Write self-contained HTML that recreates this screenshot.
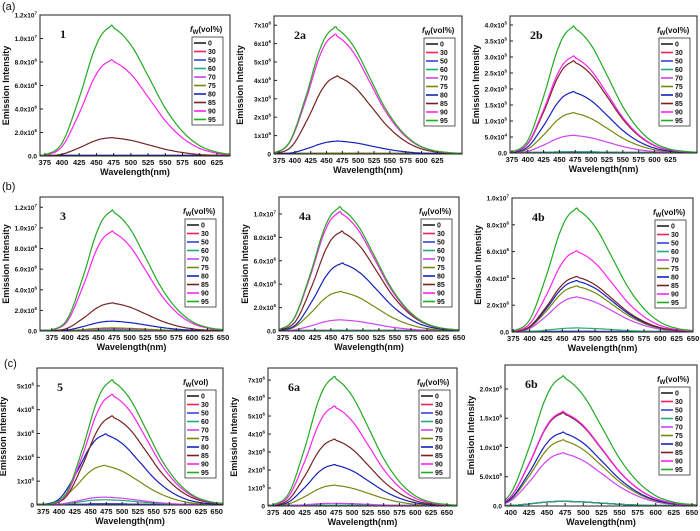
<!DOCTYPE html>
<html><head><meta charset="utf-8">
<style>
body{margin:0;background:#fff;}
svg{display:block;font-family:"Liberation Sans",sans-serif;}
</style></head>
<body>
<svg id="fig" width="700" height="531" viewBox="0 0 700 531" xmlns="http://www.w3.org/2000/svg"></svg>
<script>
// shared data
const seriesNames = ["0","30","50","60","70","75","80","85","90","95"];
const seriesColors = ["#222","#ee2255","#3344dd","#22aa77","#cc44ee","#778811","#1122bb","#772222","#ff22ee","#22aa22"];
// normalized spectral profile (wavelength relative to peak at 470)
const profileWl = [330,350,375,400,425,450,470,475,500,525,550,575,600,625,650,675,700];
const profileVal = [0,0,0.01,0.1,0.45,0.86,1,0.99,0.86,0.62,0.37,0.19,0.08,0.03,0.012,0.004,0];
// per-panel peak intensities for series 0..95
const peaks1 = [0.02,0.02,0.02,0.02,0.02,0.02,0.02,1.55,8.1,11.0].map(v=>v*1e6);
const peaks2a = [0.05,0.05,0.05,0.05,0.05,0.05,0.7,4.2,6.45,6.85].map(v=>v*1e6);
const peaks2b = [0.03,0.03,0.04,0.04,0.55,1.25,1.9,2.85,3.0,3.92].map(v=>v*1e5);
const peaks3 = [0.05,0.05,0.1,0.1,0.2,0.3,0.95,2.7,9.6,11.6].map(v=>v*1e6);
const peaks4a = [0.02,0.02,0.02,0.05,0.95,3.35,5.75,8.45,10.1,10.5].map(v=>v*1e6);
const peaks4b = [0.05,0.05,0.05,0.3,2.6,3.4,3.8,4.1,6.0,9.15].map(v=>v*1e6);
const peaks5 = [0.05,0.05,0.05,0.22,0.33,1.65,2.95,3.7,4.6,5.2].map(v=>v*1e6);
const peaks6a = [0.05,0.05,0.05,0.05,0.15,1.15,2.28,3.68,5.5,7.12].map(v=>v*1e6);
const peaks6b = [0.08,0.08,0.08,0.08,0.9,1.12,1.25,1.58,1.6,2.2].map(v=>v*1e6);
const peakWl5 = [470,470,470,470,470,470,472,482,482,482];
const peakWlStd = [470,470,470,470,470,470,470,470,470,470];
const peakWl2a = [463,463,463,463,463,463,466,465,462,462];
// tick labels
const yTicks1 = ["0.0","2.0x10^6","4.0x10^6","6.0x10^6","8.0x10^6","1.0x10^7","1.2x10^7"];
const yTicks2a = ["0","1x10^6","2x10^6","3x10^6","4x10^6","5x10^6","6x10^6","7x10^6"];
const yTicks2b = ["0.0","5.0x10^4","1.0x10^5","1.5x10^5","2.0x10^5","2.5x10^5","3.0x10^5","3.5x10^5","4.0x10^5"];
const yTicks3 = ["0.0","2.0x10^6","4.0x10^6","6.0x10^6","8.0x10^6","1.0x10^7","1.2x10^7"];
const yTicks4a = ["0.0","2.0x10^6","4.0x10^6","6.0x10^6","8.0x10^6","1.0x10^7"];
const yTicks4b = ["0.0","2.0x10^6","4.0x10^6","6.0x10^6","8.0x10^6","1.0x10^7"];
const yTicks5 = ["0","1x10^6","2x10^6","3x10^6","4x10^6","5x10^6"];
const yTicks6a = ["0","1x10^6","2x10^6","3x10^6","4x10^6","5x10^6","6x10^6","7x10^6"];
const yTicks6b = ["0.0","5.0x10^5","1.0x10^6","1.5x10^6","2.0x10^6"];

const panels = [
 {id:"1",x0:40,x1:230,y0:15,y1:156,xmin:368,xmax:644,ymax:1.2e7,xFirst:375,xLast:625,peaks:peaks1,pw:peakWlStd,yt:yTicks1,title:"(vol%)"},
 {id:"2a",x0:274,x1:462,y0:16,y1:154,xmin:367,xmax:664,ymax:7.5e6,xFirst:375,xLast:625,peaks:peaks2a,pw:peakWl2a,yt:yTicks2a,title:"(vol%)"},
 {id:"2b",x0:510,x1:697,y0:16,y1:153,xmin:372,xmax:667,ymax:4.28e5,xFirst:375,xLast:625,peaks:peaks2b,pw:peakWlStd,yt:yTicks2b,title:"(vol%)"},
 {id:"3",x0:40,x1:223,y0:197,y1:331,xmin:356,xmax:650,ymax:1.3e7,xFirst:375,xLast:650,peaks:peaks3,pw:peakWlStd,yt:yTicks3,title:"(vol%)"},
 {id:"4a",x0:279,x1:459,y0:197,y1:331,xmin:369,xmax:650,ymax:1.145e7,xFirst:375,xLast:650,peaks:peaks4a,pw:peakWl2a,yt:yTicks4a,title:"(vol%)"},
 {id:"4b",x0:512,x1:693,y0:198,y1:332,xmin:373,xmax:650,ymax:1.0e7,xFirst:375,xLast:650,peaks:peaks4b,pw:peakWlStd,yt:yTicks4b,title:"(vol%)"},
 {id:"5",x0:37,x1:223,y0:368,y1:505,xmin:365,xmax:660,ymax:5.75e6,xFirst:375,xLast:650,peaks:peaks5,pw:peakWl5,yt:yTicks5,title:"(vol)"},
 {id:"6a",x0:268,x1:457,y0:368,y1:506,xmin:367,xmax:666,ymax:7.67e6,xFirst:375,xLast:650,peaks:peaks6a,pw:peakWlStd,yt:yTicks6a,title:"(vol%)"},
 {id:"6b",x0:505,x1:697,y0:365,y1:506,xmin:392,xmax:657,ymax:2.41e6,xFirst:400,xLast:650,peaks:peaks6b,pw:peakWlStd,yt:yTicks6b,title:"(vol%)"}
];
const svg = document.getElementById('fig');
const NS = "http://www.w3.org/2000/svg";
function mk(tag, attrs, parent){const e=document.createElementNS(NS,tag);for(const k in attrs)e.setAttribute(k,attrs[k]);(parent||svg).appendChild(e);return e;}
function profile(w){
  if(w<=profileWl[0])return 0; if(w>=profileWl[profileWl.length-1])return 0;
  for(let i=0;i<profileWl.length-1;i++){if(w>=profileWl[i]&&w<=profileWl[i+1]){
    const t=(w-profileWl[i])/(profileWl[i+1]-profileWl[i]);
    const p0=profileVal[Math.max(0,i-1)],p1=profileVal[i],p2=profileVal[i+1],p3=profileVal[Math.min(profileVal.length-1,i+2)];
    const v=0.5*((2*p1)+(-p0+p2)*t+(2*p0-5*p1+4*p2-p3)*t*t+(-p0+3*p1-3*p2+p3)*t*t*t);
    return Math.max(0,v);}}
  return 0;
}
function parseTick(s){const m=s.split("x10^");return m.length>1?parseFloat(m[0])*Math.pow(10,parseInt(m[1])):parseFloat(s);}
[["(a)",2,10],["(b)",2,190],["(c)",4,367]].forEach(([t,x,y])=>{
  const e=mk('text',{x:x,y:y,'font-size':11,fill:'#111'});e.textContent=t;
  
  
});
panels.forEach(p=>{
  const g=mk('g',{});
  
  
  const sx=w=>p.x0+(w-p.xmin)/(p.xmax-p.xmin)*(p.x1-p.x0);
  const sy=v=>p.y1-v/p.ymax*(p.y1-p.y0);
  p.peaks.forEach((pk,i)=>{
    let d="";
    for(let w=p.xmin;w<=p.xmax;w+=2){
      const v=pk*profile(w-p.pw[i]+470);
      d+=(d?"L":"M")+sx(w).toFixed(1)+","+Math.min(p.y1-0.5,sy(v)).toFixed(1);
    }
    const c=mk('path',{d:d,fill:'none',stroke:seriesColors[i],'stroke-width':1.2},g);
    
    
  });
  const fr=mk('rect',{x:p.x0,y:p.y0,width:p.x1-p.x0,height:p.y1-p.y0,fill:'none',stroke:'#222','stroke-width':1},g);
  
  
  for(let w=p.xFirst;w<=p.xLast;w+=25){
    const x=sx(w);
    mk('line',{x1:x,x2:x,y1:p.y1,y2:p.y1-3,stroke:'#222'},g);
    const t=mk('text',{x:x,y:p.y1+9,'font-size':7.5,'font-weight':'bold','text-anchor':'middle',fill:'#111'},g);
    t.textContent=w;
    
    
  }
  p.yt.forEach(s=>{
    const v=parseTick(s);const y=sy(v);
    mk('line',{x1:p.x0,x2:p.x0+3,y1:y,y2:y,stroke:'#222'},g);
    const t=mk('text',{x:p.x0-3,y:y+2.5,'font-size':6.5,'font-weight':'bold','text-anchor':'end',fill:'#111'},g);
    
    
    const parts=s.split("^");
    t.textContent=parts[0];
    if(parts.length>1){const sp=mk('tspan',{dy:-3,'font-size':4.5},t);sp.textContent=parts[1];}
  });
  const xt=mk('text',{x:(p.x0+p.x1)/2,y:p.y1+19,'font-size':9,'font-weight':'bold','text-anchor':'middle',fill:'#111'},g);
  xt.textContent="Wavelength(nm)";
  
  
  const yx=p.x0-31, yy=(p.y0+p.y1)/2;
  const ytt=mk('text',{x:yx,y:yy,'font-size':9,'font-weight':'bold','text-anchor':'middle',fill:'#111',transform:`rotate(-90 ${yx} ${yy})`},g);
  ytt.textContent="Emission Intensity";
  
  
  const id=mk('text',{x:p.x0+20,y:p.y0+23,'font-size':12,'font-weight':'bold','font-family':'Liberation Serif, serif',fill:'#111'},g);
  id.textContent=p.id;
  
  
  const lx=p.x1-38, ly=p.y0+22, rh=8.5;
  const lt=mk('text',{x:lx-2,y:ly-5,'font-size':8,'font-weight':'bold',fill:'#111'},g);
  
  
  const f=mk('tspan',{'font-style':'italic'},lt);f.textContent="f";
  const sub=mk('tspan',{dy:2,'font-size':6},lt);sub.textContent="W";
  const rest=mk('tspan',{dy:-2},lt);rest.textContent=p.title;
  const lb=mk('rect',{x:lx,y:ly,width:31,height:rh*10+3,fill:'#fff',stroke:'#333','stroke-width':0.8},g);
  
  
  seriesNames.forEach((n,i)=>{
    const y=ly+6+i*rh;
    const le=mk('g',{},g);
    
    
    mk('line',{x1:lx+2,x2:lx+14,y1:y,y2:y,stroke:seriesColors[i],'stroke-width':1.6},le);
    const t=mk('text',{x:lx+16,y:y+2.5,'font-size':7,'font-weight':'bold',fill:'#111'},le);
    t.textContent=n;
  });
});
</script>
</body></html>
